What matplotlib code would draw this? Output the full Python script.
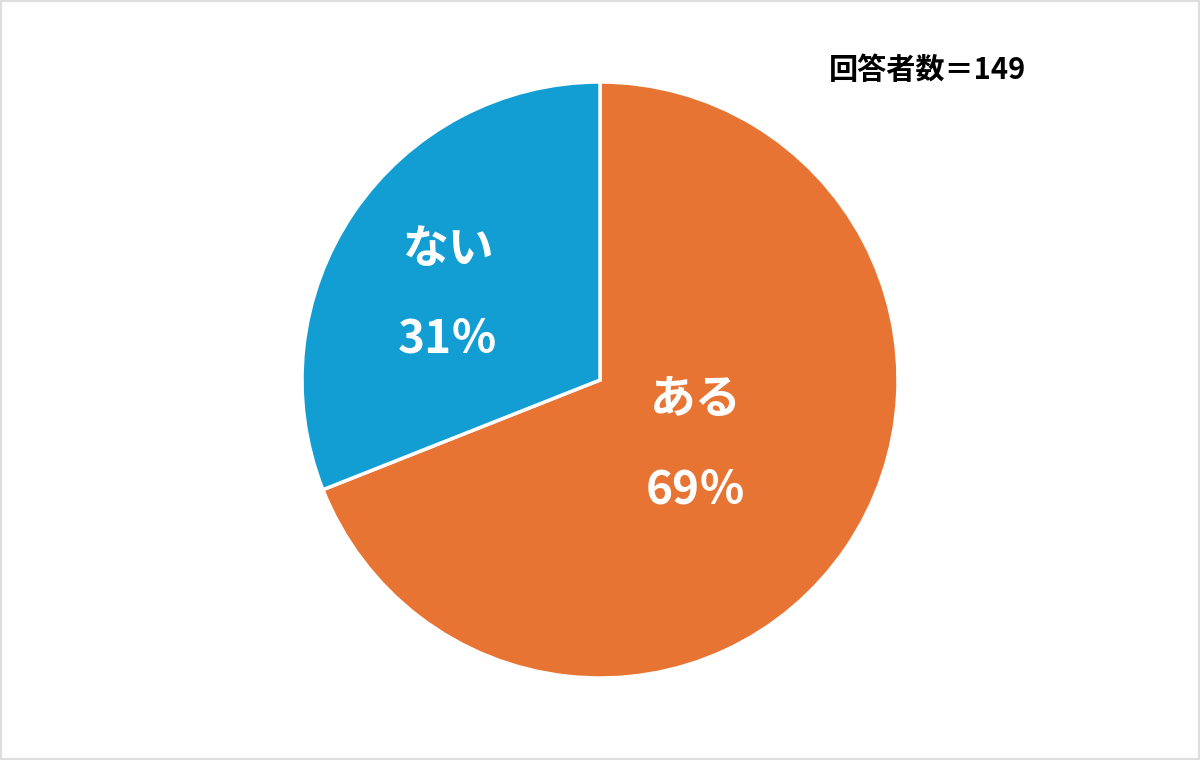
import matplotlib
matplotlib.use("Agg")
import matplotlib.pyplot as plt
import numpy as np
from matplotlib.patches import Rectangle

labels = ["ある", "ない"]
values = [69, 31]
colors = ["#E87434", "#129DD3"]
pct_labels = ["69％", "31％"]
respondents = 149

plt.rcParams['font.family'] = ['Noto Sans CJK JP', 'DejaVu Sans']

fig = plt.figure(figsize=(12, 7.6), dpi=100)
ax = fig.add_axes([0, 0, 1, 1])
ax.set_xlim(0, 1200)
ax.set_ylim(0, 760)
ax.set_aspect('equal')
ax.axis('off')

cx, cy, R = 600, 380, 298
wedges, _ = ax.pie(values, colors=colors, startangle=90, counterclock=False,
                   center=(cx, cy), radius=R,
                   wedgeprops=dict(edgecolor='white', linewidth=2.5))
ax.set_xlim(0, 1200)
ax.set_ylim(0, 760)

label_r = [0.39, 0.585]
angle_shift = [0, 5]
for w, lab, pct, lr, da in zip(wedges, labels, pct_labels, label_r, angle_shift):
    th = np.deg2rad((w.theta1 + w.theta2) / 2 + da)
    x = cx + lr * R * np.cos(th)
    y = cy + lr * R * np.sin(th)
    ax.text(x, y + 45, lab, ha='center', va='center', color='white',
            fontsize=33, fontweight='bold')
    ax.text(x, y - 45, pct, ha='center', va='center', color='white',
            fontsize=33, fontweight='bold')

ax.text(928, 760 - 70, f"回答者数＝{respondents}", ha='center', va='center',
        color='black', fontsize=21, fontweight='bold')

fig.patches.append(Rectangle((0, 0), 1, 1, transform=fig.transFigure,
                             fill=False, edgecolor='#DDDDDD', linewidth=3))

fig.savefig("out.png", dpi=100, facecolor='white')
